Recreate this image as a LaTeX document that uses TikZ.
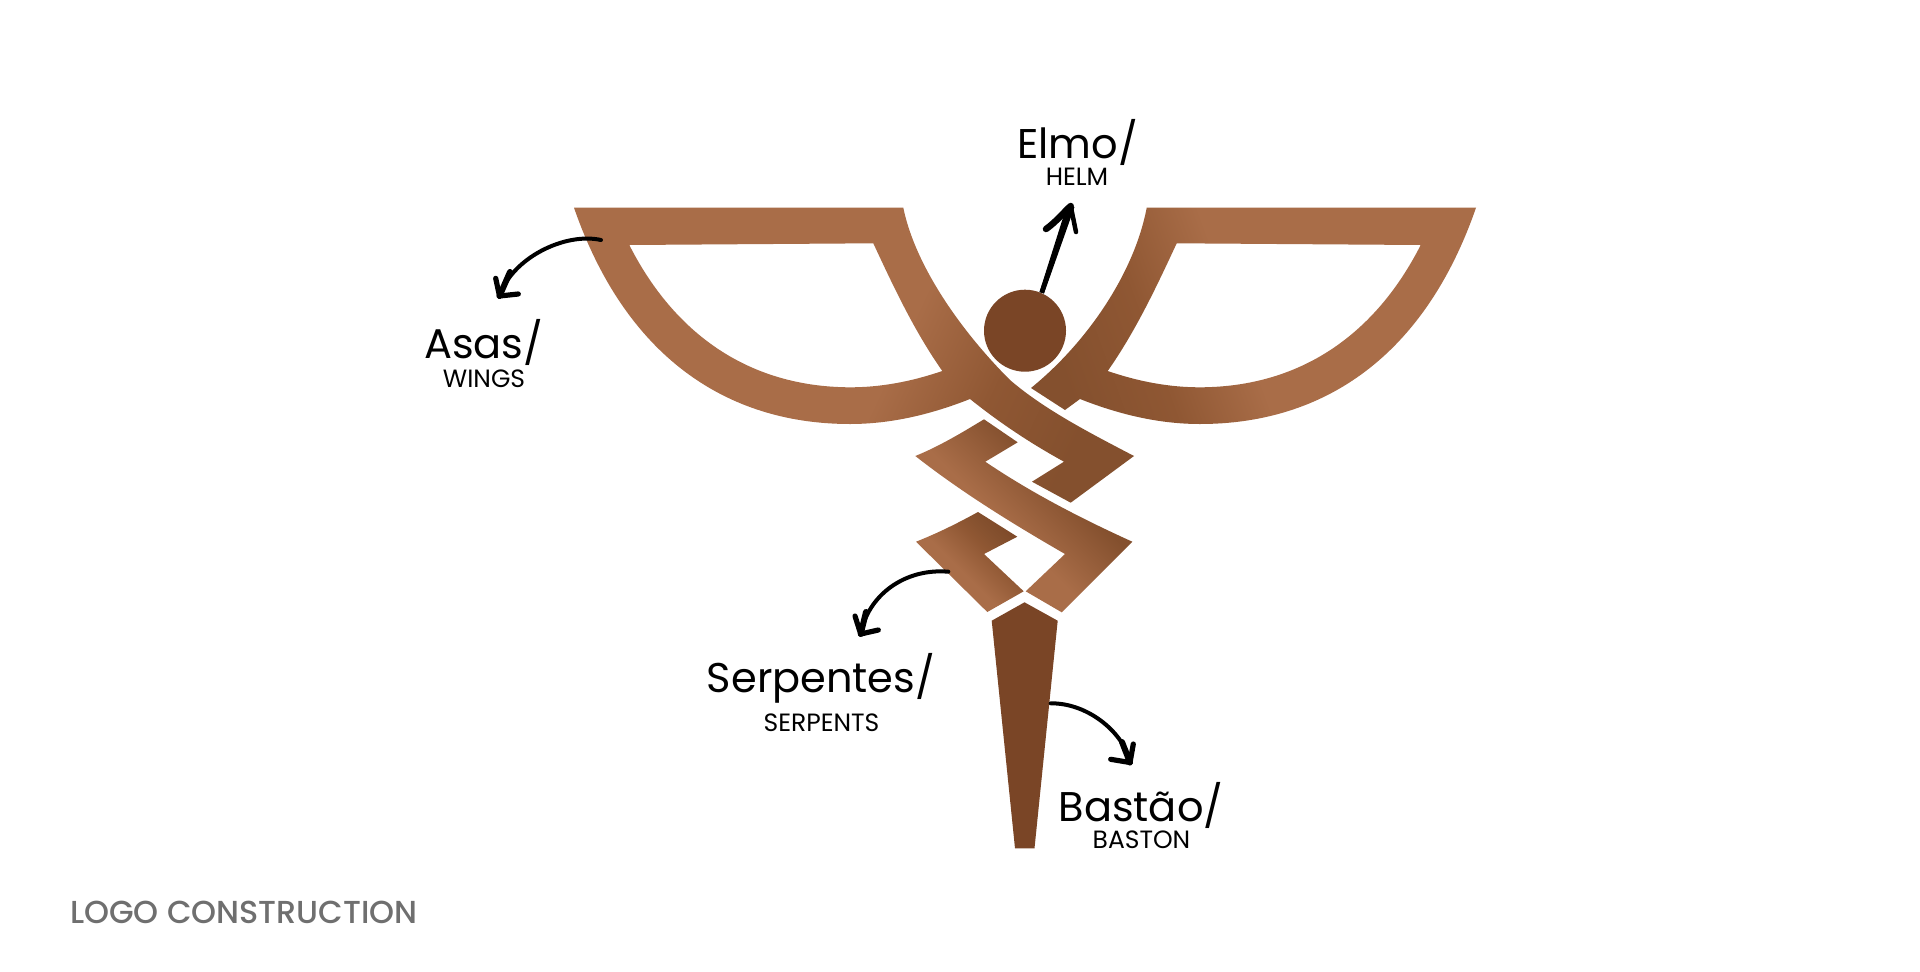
\documentclass[tikz,border=0pt]{standalone}
\usepackage{fontspec}
\setmainfont{Poppins}
\newfontfamily\popmed[UprightFont=* Medium]{Poppins}
\definecolor{cuA}{HTML}{A96D48}
\definecolor{cuB}{HTML}{8F5733}
\definecolor{cuC}{HTML}{84502E}
\definecolor{cuD}{HTML}{7A4526}
\definecolor{cuE}{HTML}{6F6F6F}
\pgfdeclarehorizontalshading{wingL}{100bp}{color(0bp)=(cuA); color(54bp)=(cuA); color(65bp)=(cuB); color(75bp)=(cuC); color(100bp)=(cuC)}
\pgfdeclarehorizontalshading{wingR}{100bp}{color(0bp)=(cuC); color(24bp)=(cuC); color(36bp)=(cuB); color(48bp)=(cuA); color(100bp)=(cuA)}
\pgfdeclarehorizontalshading{snakeA}{100bp}{color(0bp)=(cuA); color(45bp)=(cuA); color(62bp)=(cuC); color(100bp)=(cuC)}
\pgfdeclarehorizontalshading{snakeB}{100bp}{color(0bp)=(cuA); color(44bp)=(cuA); color(60bp)=(cuB); color(68bp)=(cuC); color(80bp)=(cuD); color(100bp)=(cuD)}
\tikzset{
  bigtxt/.style={anchor=base,font=\fontsize{41.5}{41.5}\selectfont,text=black,inner sep=0pt},
  smalltxt/.style={anchor=base,font=\fontsize{25}{25}\selectfont,text=black,inner sep=0pt},
  curve/.style={draw=black,line width=4pt,line cap=round,line join=round},
  curveend/.style={draw=black,line width=6pt,line cap=round,line join=round},
  headline/.style={draw=black,line width=5.2pt,line cap=round,line join=round}
}
\begin{document}
\begin{tikzpicture}[x=1pt,y=-1pt]
\useasboundingbox (0,0) rectangle (1920,972);
\fill[white] (0,0) rectangle (1920,972);
% left wing
\shade[shading=wingL,shading angle=-25,even odd rule]
 (574,207.7) -- (903.3,207.7)
 .. controls (915,265) and (960,330) .. (1010,380)
 .. controls (1045,410) and (1090,433) .. (1134,456)
 -- (1070.7,502.7) -- (1032,481.7) -- (1064,461.7)
 .. controls (1030,443) and (1000,423) .. (970,399)
 .. controls (932,414) and (892,424) .. (850,424)
 .. controls (725,424) and (625,355) .. (574,207.7) -- cycle
 (629.3,245) -- (873.3,243.3)
 .. controls (895,290) and (915,332) .. (942.3,371)
 .. controls (910,382) and (880,387.3) .. (850,387.3)
 .. controls (750,387) and (675,335) .. (629.3,245) -- cycle;
% right wing
\shade[shading=wingR,shading angle=20,even odd rule]
 (1476,207.7) -- (1146.7,207.7)
 .. controls (1135,270) and (1090,340) .. (1031,388)
 -- (1065,410) -- (1080,399)
 .. controls (1118,414) and (1158,424) .. (1200,424)
 .. controls (1325,424) and (1425,355) .. (1476,207.7) -- cycle
 (1420.7,245) -- (1176.7,243.3)
 .. controls (1155,290) and (1135,332) .. (1107.7,371)
 .. controls (1140,382) and (1170,387.3) .. (1200,387.3)
 .. controls (1300,387) and (1375,335) .. (1420.7,245) -- cycle;
% serpents
\shade[shading=snakeA,shading angle=45]
 (984,419.3) -- (1017.7,442.3) -- (985.3,461.7)
 .. controls (1030,492) and (1080,518) .. (1132.3,541.7)
 -- (1061.7,612.3) -- (1025.7,591.3) -- (1065,554)
 .. controls (1020,528) and (965,495) .. (915.3,456)
 .. controls (940,446) and (963,432) .. (984,419.3) -- cycle;
\shade[shading=snakeB,shading angle=45]
 (978,512) -- (1017.3,536.7) -- (984,554) -- (1023.7,591.3)
 -- (987.3,612) -- (916,541.7)
 .. controls (938,533) and (958,523) .. (978,512) -- cycle;
% staff
\fill[cuD] (1024.5,602.3) -- (1057.7,620.7) -- (1034.5,848.3) -- (1015,848.3) -- (991.7,620.7) -- cycle;
% helm
\node[circle,fill=cuD,inner sep=0pt,minimum size=82pt] (helm) at (1025,330.7) {};
% labels
\node[bigtxt] (elmo) at (1077.5,158.3) {Elmo/};
\node[smalltxt] (helmt) at (1077,185.7) {HELM};
\node[bigtxt] (asas) at (483.7,358.3) {Asas/};
\node[smalltxt] (wings) at (484,387.7) {WINGS};
\node[bigtxt] (serp) at (821,692.7) {Serpentes/};
\node[smalltxt] (serpen) at (821.5,731.7) {SERPENTS};
\node[bigtxt] (bast) at (1141,821.7) {Bastão/};
\node[smalltxt] (baston) at (1141.5,848.7) {BASTON};
\node[anchor=base west,inner sep=0pt,text=cuE,font=\popmed\fontsize{31.8}{31.8}\selectfont] (logo) at (70,923) {LOGO CONSTRUCTION};
% connector ends
\coordinate (eS) at (1041.7,292.7);
\coordinate (eT) at (1070.7,206);
\coordinate (eA) at (1046,229);
\coordinate (eB) at (1076,232);
\coordinate (aS) at (601,240);
\coordinate (aT) at (499.5,296);
\coordinate (aA) at (495.7,278.3);
\coordinate (aB) at (518.3,294);
\coordinate (sS) at (948.3,571.7);
\coordinate (sT) at (860.7,634);
\coordinate (sA) at (855,616);
\coordinate (sB) at (878.3,630);
\coordinate (bS) at (1050.7,703.3);
\coordinate (bT) at (1130,762.5);
\coordinate (bA) at (1133.3,744);
\coordinate (bB) at (1110.7,759.3);
% connectors
\draw[draw=black,line width=4.5pt] (eS) -- (eT);
\fill[black] (1039.5,292) -- (1044,293.5) -- (1074.5,207) -- (1067,205) -- cycle;
\draw[draw=black,line cap=round,line join=round,line width=6.5pt] (eA) .. controls (1056,222) and (1064,212) .. (eT);
\draw[headline,line width=4.5pt] (eT) -- (eB);
\draw[curve] (aS) .. controls (565,232) and (512,258) .. (aT);
\draw[curveend] (510,272) -- (aT);
\draw[headline] (aA) -- (aT) -- (aB);
\draw[curve] (sS) .. controls (905,568) and (868,595) .. (sT);
\draw[curveend] (866,612) -- (sT);
\draw[headline] (sA) -- (sT) -- (sB);
\draw[curve] (bS) .. controls (1090,703) and (1125,735) .. (bT);
\draw[curveend] (1122,742) -- (bT);
\draw[headline] (bA) -- (bT) -- (bB);
\end{tikzpicture}
\end{document}
